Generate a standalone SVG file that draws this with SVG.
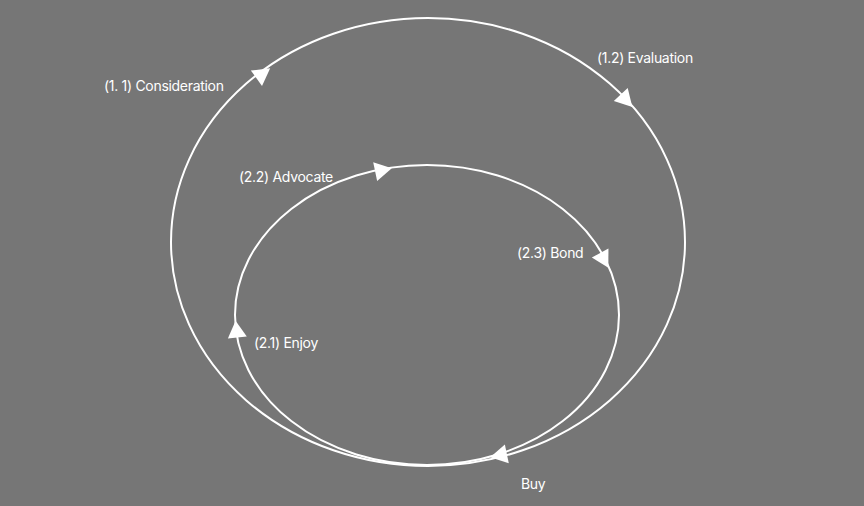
<svg xmlns="http://www.w3.org/2000/svg" width="864" height="506" viewBox="0 0 864 506">
<style>
.loop{fill:none;stroke:#ffffff;stroke-width:2}
.arrow{fill:#ffffff}
.lbl{fill:#ffffff;font-family:Inter,"Liberation Sans",sans-serif;font-size:14px;letter-spacing:-0.3px}
</style>
<defs>
<path id="ah" d="M9,0 L-8,-9.5 L-8,9.5 Z"/>
</defs>
<rect width="864" height="506" fill="#767676"/>
<g id="connectors">
<ellipse id="outer-loop" class="loop" cx="428" cy="242" rx="257" ry="224"/>
<ellipse id="inner-loop" class="loop" cx="427" cy="315" rx="192" ry="150"/>
<use href="#ah" class="arrow" transform="translate(262.9,73.5) rotate(-36)"/>
<use href="#ah" class="arrow" transform="translate(626.2,100.4) rotate(47)"/>
<use href="#ah" class="arrow" transform="translate(499,455.5) rotate(168)"/>
<use href="#ah" class="arrow" transform="translate(236.5,329.6) rotate(-96)"/>
<use href="#ah" class="arrow" transform="translate(383,170) rotate(-12)"/>
<use href="#ah" class="arrow" transform="translate(604,260) rotate(61)"/>
</g>
<g id="consideration"><text class="lbl" x="104" y="91">(1. 1) Consideration</text></g>
<g id="evaluation"><text class="lbl" x="597" y="63">(1.2) Evaluation</text></g>
<g id="advocate"><text class="lbl" x="239" y="182">(2.2) Advocate</text></g>
<g id="bond"><text class="lbl" x="517" y="258">(2.3) Bond</text></g>
<g id="enjoy"><text class="lbl" x="254" y="348">(2.1) Enjoy</text></g>
<g id="buy"><text class="lbl" x="521" y="489">Buy</text></g>
</svg>
